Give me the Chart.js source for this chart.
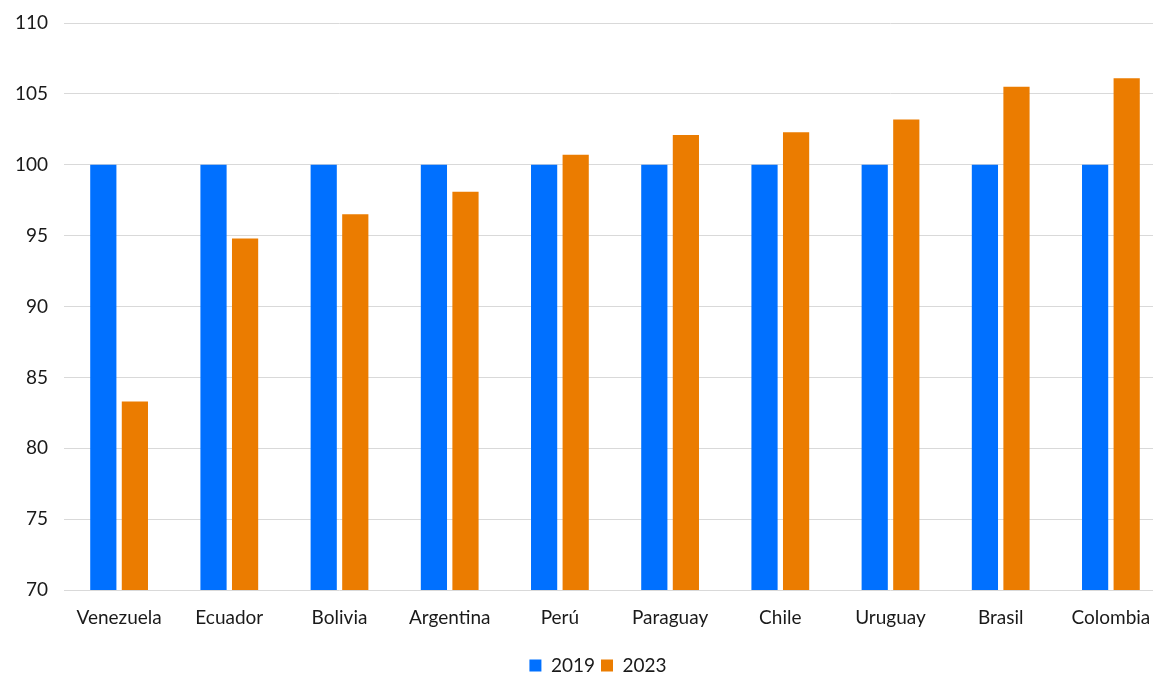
<!DOCTYPE html>
<html>
<head>
<meta charset="utf-8">
<script src="https://cdn.jsdelivr.net/npm/chart.js@4"></script>
<style>
html,body{margin:0;padding:0;background:#fff;overflow:hidden;}
#wrap{width:1153px;height:674px;overflow:hidden;position:relative;}
canvas{display:block;}
</style>
</head>
<body>
<div id="wrap"><canvas id="c" width="1166" height="685" style="width:1166px;height:685px"></canvas></div>
<script>
const categories = ["Venezuela","Ecuador","Bolivia","Argentina","Perú","Paraguay","Chile","Uruguay","Brasil","Colombia"];
const series2019 = [100,100,100,100,100,100,100,100,100,100];
const series2023 = [83.3,94.8,96.5,98.1,100.7,102.1,102.3,103.2,105.5,106.1];
const seriesNames = ["2019","2023"];
const yTicks = {min:70, max:110, step:5};

const FONT = "Lato, 'Open Sans', 'Liberation Sans', sans-serif";
const legendShift = {
  id: 'legendShift',
  afterLayout(chart) {
    if (chart.legend) { chart.legend.left += 15; chart.legend.right += 15; }
  }
};
new Chart(document.getElementById('c'), {
  type: 'bar',
  data: {
    labels: categories,
    datasets: [
      {label: seriesNames[0], data: series2019, backgroundColor: '#0070FF', categoryPercentage: 0.573, barPercentage: 0.83},
      {label: seriesNames[1], data: series2023, backgroundColor: '#EB7C00', categoryPercentage: 0.573, barPercentage: 0.83}
    ]
  },
  plugins: [legendShift],
  options: {
    responsive: false,
    animation: false,
    devicePixelRatio: 1,
    layout: {padding: {top: 23, right: 0, left: 0, bottom: 0}},
    plugins: {
      legend: {
        position: 'bottom',
        labels: {boxWidth: 12, boxHeight: 12, padding: 6, color: '#1a1a1a', font: {family: FONT, size: 19}}
      },
      tooltip: {enabled: false}
    },
    scales: {
      x: {
        grid: {display: false},
        border: {display: false},
        ticks: {color: '#1a1a1a', font: {family: FONT, size: 19}, padding: 8, maxRotation: 0},
        afterFit: (s) => { s.height = 60; }
      },
      y: {
        min: yTicks.min, max: yTicks.max,
        ticks: {stepSize: yTicks.step, color: '#1a1a1a', font: {family: FONT, size: 19}, padding: 16},
        grid: {color: '#d9d9d9', lineWidth: 1, drawTicks: false},
        border: {display: false},
        afterFit: (s) => { s.width = 64; s.paddingTop = 0; s.paddingBottom = 0; }
      }
    }
  }
});
</script>
</body>
</html>
